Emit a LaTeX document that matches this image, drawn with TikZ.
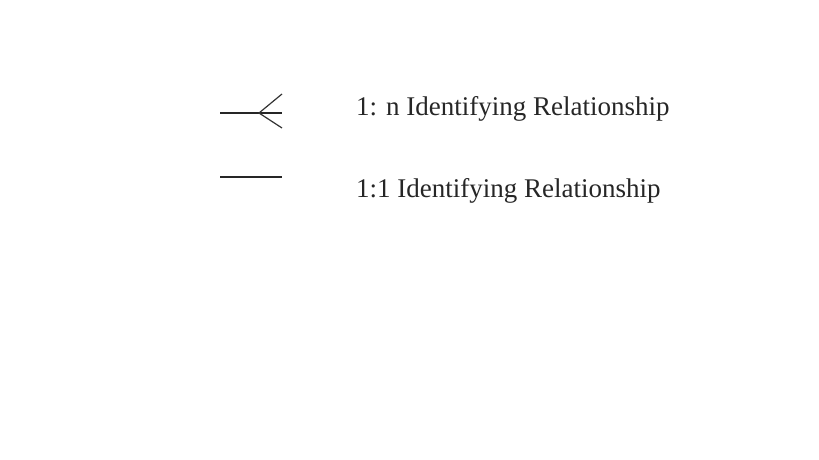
\documentclass[tikz,border=0pt]{standalone}
\usepackage{fontspec}
\setmainfont{Liberation Serif}
\begin{document}
\begin{tikzpicture}[x=1pt,y=-1pt,
    legendtext/.style={anchor=base west,inner sep=0pt,font=\fontsize{27}{32}\selectfont,text=black!85}]
            \useasboundingbox (0,0) rectangle (819,460);
            % 1:n symbol
            \coordinate (onL) at (220,113);
            \coordinate (onR) at (282,113);
            \coordinate (onJ) at (259,113);
            \coordinate (onT) at (282,94);
            \coordinate (onB) at (282,128);
            \draw[line width=2pt,black!85] (onL) -- (onR);
            \draw[line width=1.2pt,black!80] (onT) -- (onJ) -- (onB);
            % 1:1 symbol
            \coordinate (ooL) at (220,177);
            \coordinate (ooR) at (282,177);
            \draw[line width=2.4pt,black!85] (ooL) -- (ooR);
            \node[legendtext] (onetxt) at (356,115) {1: n Identifying Relationship};
            \node[legendtext] (ootxt) at (356,197) {1:1 Identifying Relationship};
        \end{tikzpicture}
\end{document}
